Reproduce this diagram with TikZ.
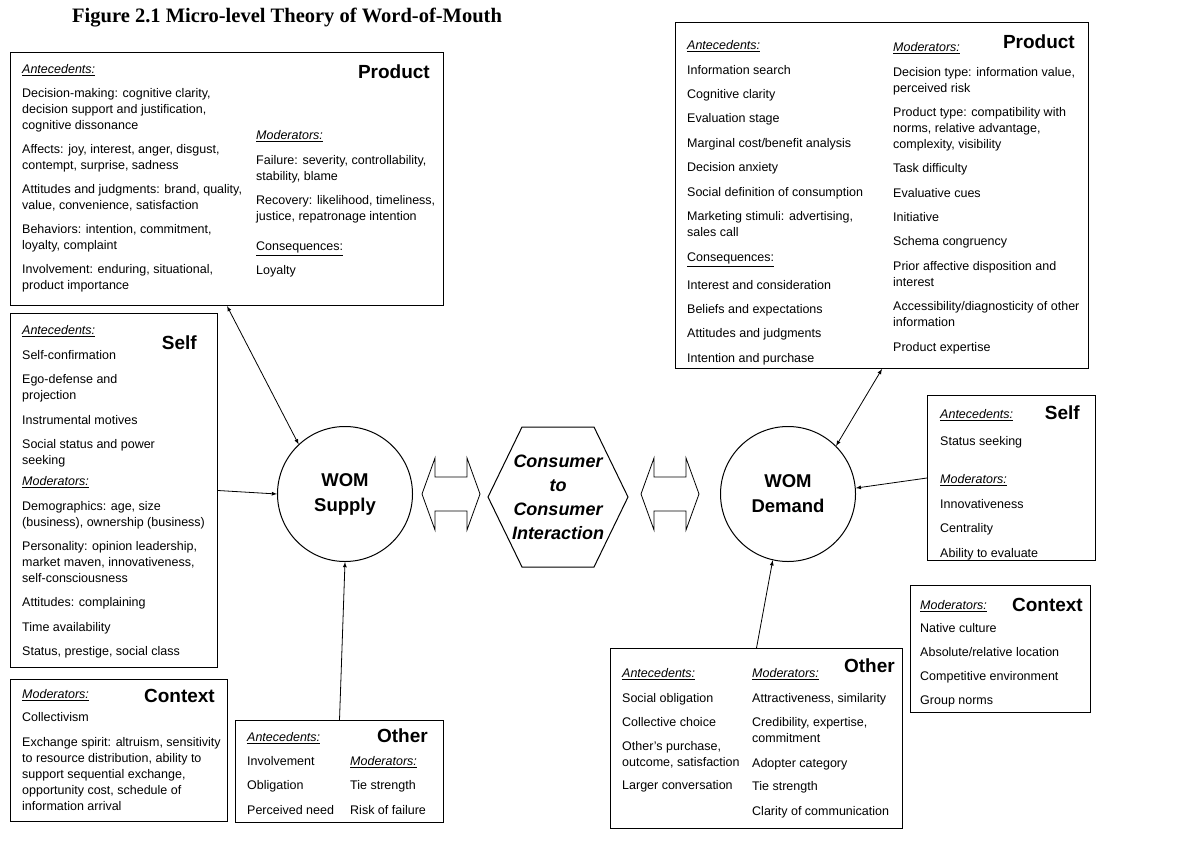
\documentclass[tikz,border=0pt]{standalone}
\usepackage{fontspec}
\setmainfont{Liberation Sans}
\newfontfamily\titlefont{Liberation Serif}
\usetikzlibrary{arrows}
\newcommand{\hd}[1]{\underline{\textit{#1}}}
\newcommand{\dblarrow}[1]{\draw [line width=0.8pt] (#1) ++(-29,0) -- ++(13,-36) -- ++(0,19) -- ++(32,0) -- ++(0,-19) -- ++(13,36) -- ++(-13,36) -- ++(0,-19) -- ++(-32,0) -- ++(0,19) -- cycle;}
\begin{document}
\begin{tikzpicture}[x=1pt,y=-1pt,
  box/.style={draw,line width=1pt,inner sep=0pt,anchor=north west},
  txt/.style={anchor=north west,inner sep=0pt,align=left,font=\fontsize{12.5}{16}\selectfont},
  tag/.style={anchor=east,inner sep=0pt,font=\fontsize{19}{22}\selectfont\bfseries},
  wom/.style={circle,draw,line width=1pt,minimum size=135pt,inner sep=0pt,align=center,font=\fontsize{18.5}{25}\selectfont\bfseries},
  link/.style={line width=0.8pt}]
  \useasboundingbox (0,0) rectangle (1190,859);
  \node [anchor=west,inner sep=0pt,font=\titlefont\fontsize{20.5}{24}\selectfont\bfseries] (title) at (72,18) {Figure 2.1 Micro-level Theory of Word-of-Mouth};

  % supply side
  \node [box,minimum width=433pt,minimum height=253pt] (prodS) at (10,52) {};
  \node [txt] (prodSant) at (22,64.5) {\hd{Antecedents:}\\[8pt]
    Decision-making: cognitive clarity,\\ decision support and justification,\\ cognitive dissonance\\[8pt]
    Affects: joy, interest, anger, disgust,\\ contempt, surprise, sadness\\[8pt]
    Attitudes and judgments: brand, quality,\\ value, convenience, satisfaction\\[8pt]
    Behaviors: intention, commitment,\\ loyalty, complaint\\[8pt]
    Involvement: enduring, situational,\\ product importance};
  \node [txt] (prodSmod) at (256,130.5) {\hd{Moderators:}\\[9pt]
    Failure: severity, controllability,\\ stability, blame\\[8pt]
    Recovery: likelihood, timeliness,\\ justice, repatronage intention\\[14pt]
    \underline{Consequences:}\\[8pt]
    Loyalty};
  \node [tag] (prodStag) at (430,72) {Product};

  \node [box,minimum width=207pt,minimum height=354pt] (selfS) at (10,313) {};
  \node [txt] (selfSant) at (22,325.5) {\hd{Antecedents:}\\[9pt]
    Self-confirmation\\[8pt]
    Ego-defense and\\ projection\\[9pt]
    Instrumental motives\\[8pt]
    Social status and power\\ seeking\\[5pt]
    \hd{Moderators:}\\[9pt]
    Demographics: age, size\\ (business), ownership (business)\\[8pt]
    Personality: opinion leadership,\\ market maven, innovativeness,\\ self-consciousness\\[8pt]
    Attitudes: complaining\\[9pt]
    Time availability\\[8pt]
    Status, prestige, social class};
  \node [tag] (selfStag) at (197,343) {Self};

  \node [box,minimum width=217pt,minimum height=142pt] (ctxS) at (10,679) {};
  \node [txt] (ctxSmod) at (22,689.5) {\hd{Moderators:}\\[7pt]
    Collectivism\\[9pt]
    Exchange spirit: altruism, sensitivity\\ to resource distribution, ability to\\ support sequential exchange,\\ opportunity cost, schedule of\\ information arrival};
  \node [tag] (ctxStag) at (215,696) {Context};

  \node [box,minimum width=208pt,minimum height=102pt] (othS) at (235,720) {};
  \node [txt] (othSant) at (247,732.5) {\hd{Antecedents:}\\[8pt]
    Involvement\\[8pt]
    Obligation\\[9pt]
    Perceived need};
  \node [txt] (othSmod) at (350,756.5) {\hd{Moderators:}\\[8pt]
    Tie strength\\[9pt]
    Risk of failure};
  \node [tag] (othStag) at (428,736) {Other};

  \node [wom] (sup) at (345,494) {WOM\\ Supply};

  % interaction
  \node [inner sep=0pt,align=center,font=\fontsize{18}{24}\selectfont\bfseries\itshape] (cci) at (558,497) {Consumer\\ to\\ Consumer\\ Interaction};
  \draw [line width=1pt] (cci.center) ++(-70,0) -- ++(34,-70) -- ++(72,0) -- ++(34,70) -- ++(-34,70) -- ++(-72,0) -- cycle;
  \coordinate (la) at (451,494);
  \coordinate (ra) at (670,494);
  \dblarrow{la}
  \dblarrow{ra}

  % demand side
  \node [wom] (dem) at (788,494) {WOM\\ Demand};

  \node [box,minimum width=413pt,minimum height=346pt] (prodD) at (675,22) {};
  \node [txt] (prodDant) at (687,40.5) {\hd{Antecedents:}\\[9pt]
    Information search\\[8pt]
    Cognitive clarity\\[8pt]
    Evaluation stage\\[9pt]
    Marginal cost/benefit analysis\\[8pt]
    Decision anxiety\\[9pt]
    Social definition of consumption\\[8pt]
    Marketing stimuli: advertising,\\ sales call\\[9pt]
    \underline{Consequences:}\\[12pt]
    Interest and consideration\\[8pt]
    Beliefs and expectations\\[8pt]
    Attitudes and judgments\\[9pt]
    Intention and purchase};
  \node [txt] (prodDmod) at (893,42.5) {\hd{Moderators:}\\[9pt]
    Decision type: information value,\\ perceived risk\\[8pt]
    Product type: compatibility with\\ norms, relative advantage,\\ complexity, visibility\\[8pt]
    Task difficulty\\[9pt]
    Evaluative cues\\[8pt]
    Initiative\\[8pt]
    Schema congruency\\[9pt]
    Prior affective disposition and\\ interest\\[8pt]
    Accessibility/diagnosticity of other\\ information\\[9pt]
    Product expertise};
  \node [tag] (prodDtag) at (1075,42) {Product};

  \node [box,minimum width=168pt,minimum height=165pt] (selfD) at (927,395) {};
  \node [txt] (selfDant) at (940,409.5) {\hd{Antecedents:}\\[11pt]
    Status seeking\\[22pt]
    \hd{Moderators:}\\[9pt]
    Innovativeness\\[8pt]
    Centrality\\[9pt]
    Ability to evaluate};
  \node [tag] (selfDtag) at (1080,413) {Self};

  \node [box,minimum width=180pt,minimum height=127pt] (ctxD) at (910,585) {};
  \node [txt] (ctxDmod) at (920,600.5) {\hd{Moderators:}\\[7pt]
    Native culture\\[8pt]
    Absolute/relative location\\[8pt]
    Competitive environment\\[8pt]
    Group norms};
  \node [tag] (ctxDtag) at (1083,605) {Context};

  \node [box,minimum width=292pt,minimum height=180pt] (othD) at (610,648) {};
  \node [txt] (othDant) at (622,668.5) {\hd{Antecedents:}\\[9pt]
    Social obligation\\[8pt]
    Collective choice\\[8pt]
    Other's purchase,\\ outcome, satisfaction\\[7pt]
    Larger conversation};
  \node [txt] (othDmod) at (752,668.5) {\hd{Moderators:}\\[9pt]
    Attractiveness, similarity\\[8pt]
    Credibility, expertise,\\ commitment\\[9pt]
    Adopter category\\[7pt]
    Tie strength\\[9pt]
    Clarity of communication};
  \node [tag] (othDtag) at (895,666) {Other};

  % links
  \draw [link,latex-latex] (prodS.south) -- (sup.133);
  \draw [link,-latex] (selfS.east) -- (sup.west);
  \draw [link,-latex] (othS.north) -- (sup.south);
  \draw [link,latex-latex] (prodD.south) -- (dem.45);
  \draw [link,-latex] (selfD.west) -- (dem.5);
  \draw [link,-latex] (othD.north) -- (dem.-103);
\end{tikzpicture}
\end{document}
